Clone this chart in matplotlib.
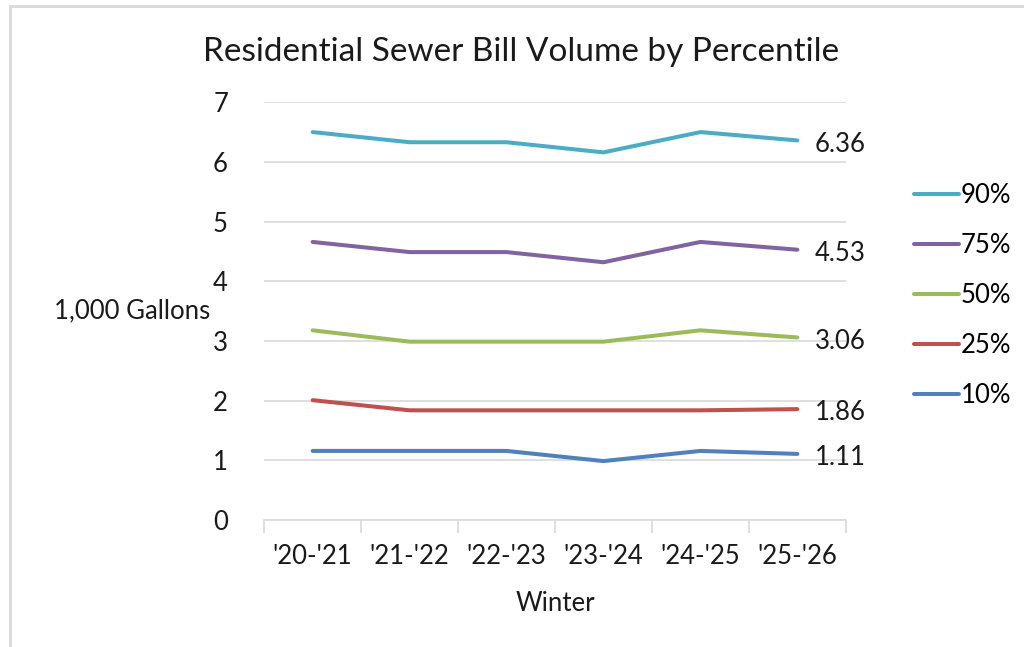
import matplotlib
matplotlib.use("Agg")
import matplotlib.pyplot as plt
from matplotlib.patches import Rectangle

plt.rcParams['font.family'] = ['Lato', 'DejaVu Sans']

winters = ["'20-'21", "'21-'22", "'22-'23", "'23-'24", "'24-'25", "'25-'26"]
p90 = [6.50, 6.33, 6.33, 6.16, 6.50, 6.36]
p75 = [4.66, 4.49, 4.49, 4.32, 4.66, 4.53]
p50 = [3.18, 2.99, 2.99, 2.99, 3.18, 3.06]
p25 = [2.01, 1.84, 1.84, 1.84, 1.84, 1.86]
p10 = [1.16, 1.16, 1.16, 0.99, 1.16, 1.11]

series = [("90%", p90, "#4bacc6"),
          ("75%", p75, "#8064a2"),
          ("50%", p50, "#9bbb59"),
          ("25%", p25, "#c0504d"),
          ("10%", p10, "#4f81bd")]

fs = 18.5
txt = '#1a1a1a'

fig = plt.figure(figsize=(10.24, 6.47), dpi=100)
ax = fig.add_axes([0.258, 0.196, 0.568, 0.646])

x = list(range(len(winters)))
for name, vals, col in series:
    ax.plot(x, vals, color=col, lw=2.9, label=name, solid_capstyle='round')
    ax.text(x[-1] + 0.18, vals[-1] - 0.06, f"{vals[-1]:.2f}", fontsize=fs,
            va='center', ha='left', color=txt)

ax.set_xlim(-0.5, len(winters) - 0.5)
ax.set_ylim(0, 7)
ax.set_yticks(range(8))
ax.set_xticks(x)
ax.set_xticklabels(winters)
ax.set_xticks([i - 0.5 for i in range(len(winters) + 1)], minor=True)
ax.tick_params(axis='x', which='major', length=0, labelsize=fs, pad=17, colors=txt)
ax.tick_params(axis='x', which='minor', length=9, color='#d9d9d9', width=1.2)
ax.tick_params(axis='y', length=0, labelsize=fs, pad=26, colors=txt)
ax.grid(axis='y', color='#d9d9d9', lw=1.2)
ax.set_axisbelow(True)
for s in ['top', 'right', 'left']:
    ax.spines[s].set_visible(False)
ax.spines['bottom'].set_color('#d9d9d9')
ax.spines['bottom'].set_linewidth(1.2)

ax.set_xlabel("Winter", fontsize=fs, labelpad=16, color=txt)
ax.set_ylabel("1,000 Gallons", fontsize=fs, rotation=0, ha='right', va='center',
              color=txt)
ax.yaxis.set_label_coords(-0.093, 0.5)
ax.set_title("Residential Sewer Bill Volume by Percentile", fontsize=24,
             pad=30, color=txt, x=0.442)

ax.legend(loc='upper left', bbox_to_anchor=(1.118, 0.806), frameon=False,
          fontsize=fs, handlelength=1.75, handletextpad=0.05,
          labelspacing=0.97, borderpad=0, borderaxespad=0)

# light frame around the chart area
fig.patches.append(Rectangle((10 / 1024, -0.1), 1.2, 1 - 6 / 647 + 0.1,
                             transform=fig.transFigure, fill=False,
                             edgecolor='#d9d9d9', lw=2))

fig.savefig("out.png", dpi=100)
